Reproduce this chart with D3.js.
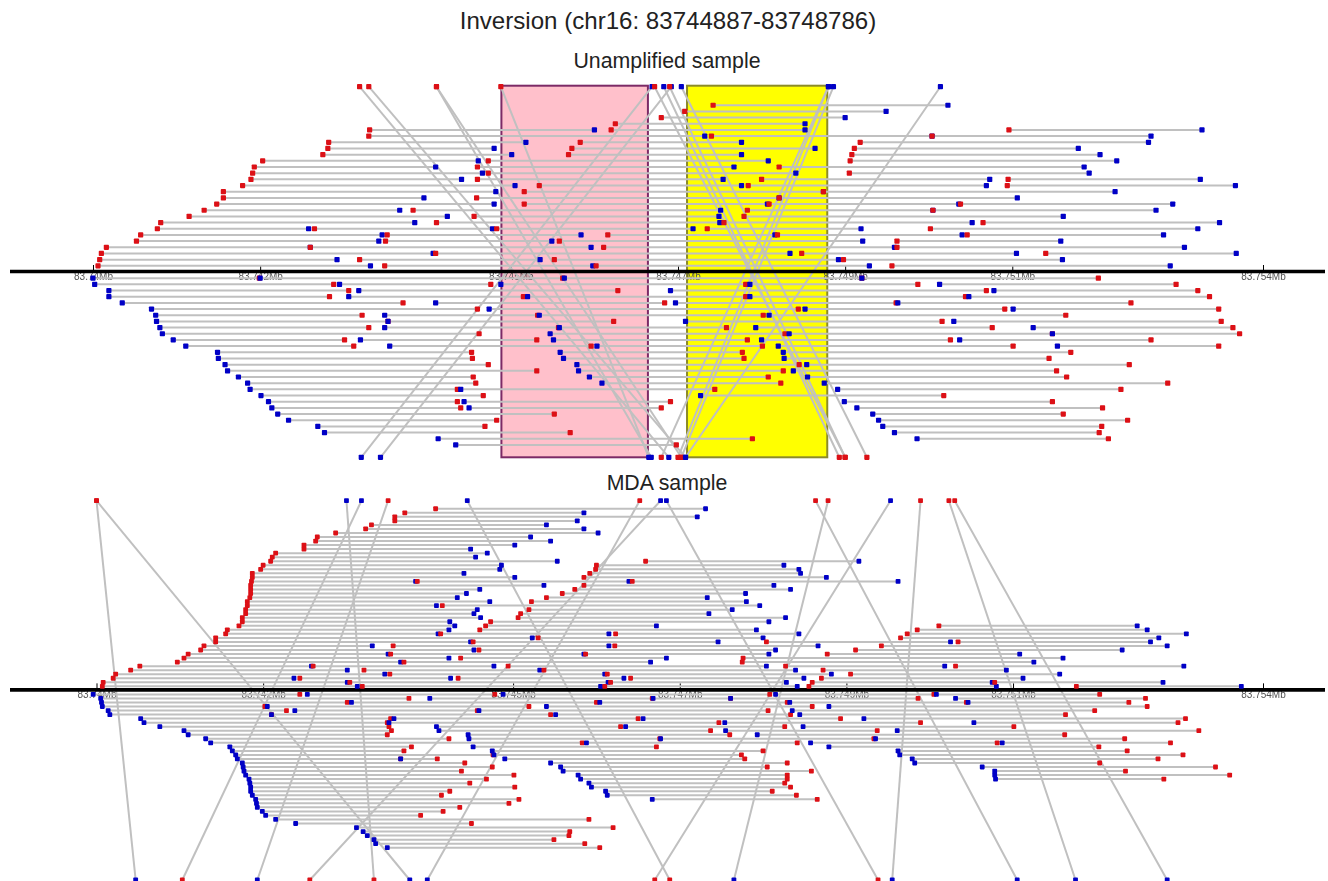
<!DOCTYPE html>
<html lang="en">
<head>
    <meta charset="UTF-8">
    <title>Inversion (chr16: 83744887-83748786)</title>
    <style>
        html, body { margin: 0; padding: 0; background: #fff; }
        svg { display: block; font-family: "Liberation Sans", Arial, sans-serif; }
        .soft { filter: blur(0.45px); }
    </style>
</head>

<body>
    <svg id="container" width="1328" height="881"></svg>
</body>

<script src="https://cdn.jsdelivr.net/npm/d3@7/dist/d3.min.js"></script>

<script>
    // all positions are kb past 83.74Mb, each row is start,end,start,end...
    const tickKb = [0, 2, 5, 7, 9, 11, 14]
    const tickLabels = ["83.74Mb", "83.742Mb", "83.745Mb", "83.747Mb", "83.749Mb", "83.751Mb", "83.754Mb"]
    const pinkRegion = [4.887, 6.64]
    const yellowRegion = [7.108, 8.786]

    const unampAbove = [
        [7.42, 10.23], [7.08, 9.49], [6.80, 9.00], [6.25, 8.52],
        [3.31, 6.00, 6.20, 8.52, 10.96, 13.27],
        [3.30, 7.32, 7.40, 10.04, 10.04, 12.66],
        [2.82, 5.18, 5.83, 7.76, 9.18, 12.63],
        [2.81, 4.80, 5.73, 8.64, 9.11, 11.79],
        [2.75, 5.01, 5.69, 7.76, 9.08, 12.05],
        [2.03, 4.61, 4.73, 8.08, 9.06, 12.25],
        [1.93, 4.10, 4.60, 7.67, 8.21, 11.86],
        [1.91, 4.66, 4.73, 8.41, 9.05, 11.92],
        [1.89, 4.41, 4.60, 7.54, 8.00, 10.73, 10.95, 13.25],
        [1.79, 5.05, 5.34, 7.76, 7.84, 10.69, 10.94, 13.67],
        [1.56, 4.82, 5.16, 8.74, 8.74, 12.23],
        [1.56, 3.96, 4.59, 8.21, 8.21, 11.06],
        [1.48, 4.80, 5.16, 8.07, 8.09, 10.36, 10.38, 12.92],
        [1.33, 3.67, 3.83, 7.51, 7.83, 10.05, 10.05, 12.72],
        [1.15, 4.24, 4.56, 7.49, 7.79, 11.61],
        [0.81, 3.85, 4.11, 7.50, 7.55, 10.52, 10.65, 13.48],
        [0.77, 2.58, 2.65, 4.78, 4.83, 7.18, 7.35, 9.19, 10.02, 13.22],
        [0.57, 3.46, 3.52, 5.84, 6.16, 8.16, 8.19, 10.40, 10.46, 12.81],
        [0.52, 3.42, 3.50, 5.49, 5.58, 9.21, 9.62, 11.58],
        [0.16, 2.60, 2.60, 5.96, 6.11, 9.59, 9.62, 13.06],
        [0.10, 4.07, 4.10, 8.34, 8.48, 11.05, 11.40, 13.68],
        [0.08, 2.92, 3.19, 5.35, 5.52, 8.92, 8.98, 11.60],
        [0.06, 3.32, 3.49, 5.98, 6.02, 9.29, 9.56, 12.89]
    ]

    const unampBelow = [
        [0.00, 1.99, 2.00, 5.62, 5.64, 9.20, 9.20, 12.03],
        [0.02, 2.88, 2.95, 4.76, 4.88, 7.81, 7.86, 9.87, 10.13, 12.96],
        [0.19, 3.06, 3.18, 6.28, 6.91, 10.69, 10.78, 13.22],
        [0.19, 2.83, 3.06, 5.15, 5.20, 7.81, 7.86, 10.44, 10.48, 13.36],
        [0.35, 3.71, 4.10, 6.84, 6.97, 9.61, 9.63, 12.42],
        [0.70, 4.60, 4.74, 8.44, 8.52, 10.91, 11.01, 13.47],
        [0.75, 3.22, 3.49, 5.32, 5.34, 8.02, 8.09, 11.64],
        [0.76, 3.53, 3.53, 6.23, 7.09, 10.16, 10.30, 13.50],
        [0.80, 3.30, 3.49, 5.57, 5.58, 7.58, 7.93, 10.76, 11.25, 13.64],
        [0.83, 4.62, 5.47, 8.28, 8.33, 11.48, 11.48, 13.72],
        [0.96, 3.01, 3.20, 5.31, 5.51, 7.83, 8.00, 10.26, 10.37, 12.66],
        [1.11, 3.12, 3.55, 5.96, 6.03, 8.01, 8.20, 11.01, 11.54, 13.47],
        [1.49, 4.53, 5.59, 7.77, 8.26, 11.70],
        [1.50, 4.54, 5.63, 7.79, 8.27, 11.44],
        [1.58, 4.73, 5.79, 8.45, 8.54, 12.40],
        [1.61, 5.31, 5.81, 8.26, 8.38, 11.53],
        [1.74, 4.55, 5.94, 8.08, 8.55, 11.65],
        [1.85, 4.58, 6.09, 8.23, 8.75, 12.86],
        [1.88, 4.36, 4.40, 7.44, 8.91, 12.30],
        [2.01, 4.67, 7.27, 10.18],
        [2.10, 4.36, 4.44, 6.91, 8.99, 11.48],
        [2.14, 4.40, 4.50, 6.80, 9.14, 12.08],
        [2.21, 5.52, 9.33, 11.61],
        [2.34, 4.83, 9.40, 12.38],
        [2.69, 4.69, 9.45, 12.07],
        [2.77, 5.71, 9.59, 12.04],
        [4.13, 7.89, 9.86, 12.15],
        [4.34, 6.98]
    ]

    // top position, bottom position, top strand, bottom strand (1 red, 0 blue)
    const unampCrossing = [
        [3.19, 6.89, 1, 0], [3.30, 7.09, 1, 0], [4.11, 6.68, 1, 0], [4.11, 7.04, 1, 1],
        [4.88, 6.65, 1, 0], [6.69, 3.21, 0, 0], [6.92, 3.44, 0, 0], [6.72, 9.00, 1, 1],
        [6.83, 8.93, 0, 1], [6.90, 9.00, 1, 1], [7.04, 9.26, 0, 1], [8.80, 6.80, 0, 1],
        [8.80, 7.00, 0, 1], [8.86, 7.04, 0, 1], [10.14, 7.09, 0, 0]
    ]

    const mdaAbove = [
        [4.07, 7.31], [3.70, 5.85], [3.58, 7.21], [3.58, 5.77], [3.30, 5.40], [3.23, 5.85],
        [2.87, 6.02], [2.65, 5.21], [2.63, 5.45], [2.49, 5.02], [2.49, 4.49], [2.15, 4.69],
        [2.11, 4.55],
        [2.09, 5.53, 6.59, 9.15],
        [2.00, 4.86, 6.00, 8.25],
        [1.97, 4.84, 5.99, 8.43],
        [1.87, 4.41, 5.92, 8.45],
        [1.87, 5.02, 5.85, 8.76],
        [1.86, 3.83, 3.85, 6.39, 6.43, 9.62],
        [1.85, 5.37, 5.85, 8.13],
        [1.85, 4.60, 5.74, 8.33],
        [1.85, 4.44, 5.59, 7.79],
        [1.84, 4.33, 5.40, 7.33],
        [1.81, 4.72, 5.22, 7.80],
        [1.81, 4.08, 4.15, 7.96],
        [1.79, 4.57, 5.19, 7.63],
        [1.79, 4.53, 5.09, 7.35],
        [1.75, 4.61, 5.06, 8.27],
        [1.75, 4.24, 4.73, 8.07],
        [1.71, 4.30, 4.67, 6.72, 10.11, 12.49],
        [1.57, 4.23, 4.60, 7.92, 9.85, 12.61],
        [1.55, 4.10, 4.13, 6.15, 6.23, 8.43, 9.73, 13.08],
        [1.43, 5.23, 5.30, 8.00, 9.65, 12.75],
        [1.43, 4.49, 4.52, 7.46, 8.04, 10.25, 10.34, 12.65],
        [1.29, 3.31, 3.56, 6.15, 6.22, 8.66, 9.42, 12.85],
        [1.25, 4.53, 4.59, 8.15, 9.11, 12.31],
        [1.10, 3.50, 3.53, 5.85, 5.87, 8.07, 8.77, 11.08],
        [1.05, 4.23, 4.37, 6.84, 7.76, 11.60],
        [0.97, 3.65, 3.69, 6.65, 7.75, 11.25],
        [0.52, 2.58, 2.60, 4.77, 4.94, 8.04, 8.27, 10.18, 10.31, 13.05],
        [0.41, 3.01, 3.21, 5.32, 5.37, 8.39, 8.72, 10.92],
        [0.23, 3.46, 3.52, 6.10, 6.13, 8.82, 9.05, 11.56],
        [0.20, 2.37, 2.44, 4.25, 4.34, 6.33, 6.41, 8.49, 8.70, 11.12],
        [0.08, 3.01, 3.04, 6.14, 6.17, 8.28, 8.59, 10.75, 10.78, 12.80],
        [0.07, 3.13, 3.19, 6.05, 6.10, 8.41, 8.55, 10.80, 11.76, 13.74]
    ]

    const mdaBelow = [
        [-0.04, 2.44, 2.53, 4.78, 4.88, 8.08, 8.15, 10.05, 10.08, 12.04],
        [0.05, 3.75, 4.00, 6.67, 6.68, 7.61, 7.61, 9.86, 10.31, 12.59],
        [0.06, 3.01, 3.06, 6.00, 6.04, 8.29, 8.32, 10.44, 10.46, 12.39],
        [0.07, 2.02, 2.05, 5.19, 5.40, 8.59, 8.79, 12.61],
        [0.14, 2.28, 2.38, 4.57, 4.59, 8.06, 8.35, 11.98],
        [0.16, 2.10, 2.10, 5.45, 5.51, 8.33, 8.44, 11.63],
        [0.53, 3.53, 3.57, 6.50, 6.56, 8.93, 9.21, 13.07],
        [0.57, 3.49, 3.51, 7.47, 7.54, 9.89, 10.53, 12.98],
        [0.76, 3.51, 4.08, 6.29, 6.35, 8.26, 8.48, 11.01],
        [1.05, 3.54, 4.11, 7.37, 7.55, 9.37, 9.61, 13.23],
        [1.10, 3.49, 4.46, 7.60, 7.93, 11.62],
        [1.31, 4.23, 4.47, 6.76, 6.77, 9.33, 9.35, 12.34],
        [1.37, 5.83, 5.88, 8.41, 8.57, 10.81, 10.87, 12.89],
        [1.60, 3.78, 4.52, 6.72, 8.79, 12.03],
        [1.63, 3.69, 4.75, 8.00, 9.62, 12.37],
        [1.67, 4.76, 4.77, 7.74, 9.64, 13.04],
        [1.69, 3.65, 3.65, 4.09, 4.90, 7.78, 9.79, 12.74],
        [1.75, 4.42, 5.45, 8.29, 9.82, 12.04],
        [1.76, 4.75, 5.57, 8.05, 10.63, 13.43],
        [1.77, 4.38, 5.60, 8.58, 10.78, 12.35],
        [1.79, 5.01, 5.78, 8.29, 10.78, 13.60],
        [1.83, 4.68, 5.81, 8.29, 10.79, 12.81],
        [1.84, 4.48, 5.91, 8.26],
        [1.85, 5.02, 5.94, 8.33],
        [1.85, 4.24, 6.11, 8.11],
        [1.87, 4.14, 6.13, 8.40],
        [1.91, 5.07, 6.67, 8.65],
        [1.92, 4.95], [1.93, 4.36], [1.99, 4.16], [2.03, 3.89], [2.15, 5.91], [2.39, 4.50],
        [3.12, 6.20], [3.20, 5.68], [3.25, 5.67], [3.33, 5.49], [3.35, 5.86], [3.49, 6.04]
    ]

    const mdaCrossing = [
        [0.00, 0.47, 1, 0], [0.00, 3.76, 1, 0], [3.00, 3.33, 0, 1], [3.18, 1.03, 0, 1],
        [3.50, 1.93, 1, 0], [4.45, 6.88, 0, 1], [6.52, 3.97, 1, 0], [6.77, 2.56, 0, 1],
        [6.84, 9.38, 0, 1], [8.63, 11.05, 1, 0], [8.78, 7.65, 1, 0], [9.53, 6.70, 0, 1],
        [9.89, 9.55, 1, 0], [10.23, 11.75, 1, 0], [10.30, 12.85, 1, 0]
    ]

    const RED = "#dc1016"
    const BLUE = "#0000c6"
    const GREY = "#c0c0c0"

    let svg = d3.select("#container")

    svg.append("text").attr("x", 668).attr("y", 29).attr("text-anchor", "middle")
        .style("font-size", "24.1px").style("fill", "#222")
        .text("Inversion (chr16: 83744887-83748786)")

    drawPanel({
        title: "Unamplified sample", titleY: 68,
        xRange: [93, 1263], yDomain: [-3, 57], yRange: [86.7, 457.3],
        axisRow: 27, belowStart: 28, above: unampAbove, below: unampBelow,
        crossing: unampCrossing, markSize: 5.2, regions: true
    })

    drawPanel({
        title: "MDA sample", titleY: 490,
        xRange: [96.5, 1263], yDomain: [-2, 92], yRange: [500.7, 880],
        axisRow: 45, belowStart: 46, above: mdaAbove, below: mdaBelow,
        crossing: mdaCrossing, markSize: 4.8, regions: false
    })

    function readsFrom(rows, firstRow, startColor, endColor) {
        let reads = []
        rows.forEach((row, i) => {
            for (let k = 0; k < row.length; k += 2) {
                reads.push({ row: firstRow + i, start: row[k], end: row[k + 1], startColor, endColor })
            }
        })
        return reads
    }

    function drawPanel(p) {
        let x = d3.scaleLinear().domain([0, 14]).range(p.xRange)
        let y = d3.scaleLinear().domain(p.yDomain).range(p.yRange)
        let topRow = p.yDomain[0]
        let bottomRow = p.yDomain[1]

        svg.append("text").attr("x", 667).attr("y", p.titleY).attr("text-anchor", "middle")
            .style("font-size", "21.3px").style("fill", "#222")
            .text(p.title)

        let g = svg.append("g").attr("class", "soft")

        if (p.regions) {
            let boxes = [
                { span: pinkRegion, fill: "#ffc0cb", line: "#7c2a66" },
                { span: yellowRegion, fill: "#ffff00", line: "#8c8a28" }
            ]
            g.selectAll("rect.region").data(boxes).join("rect")
                .attr("class", "region")
                .attr("x", d => x(d.span[0]))
                .attr("width", d => x(d.span[1]) - x(d.span[0]))
                .attr("y", y(topRow) - 1)
                .attr("height", y(bottomRow) - y(topRow) + 1)
                .style("fill", d => d.fill)
                .style("stroke", d => d.line)
                .style("stroke-width", 2)
        }

        let axis = d3.axisBottom(x)
            .tickValues(tickKb)
            .tickSize(-6)
            .tickPadding(2)
            .tickFormat((d, i) => tickLabels[i])
        let axisGroup = g.append("g")
            .attr("transform", `translate(0, ${y(p.axisRow) - 1})`)
            .call(axis)
        axisGroup.select(".domain").remove()
        axisGroup.selectAll("text")
            .style("font-size", "10px")
            .style("font-family", '"Liberation Sans", Arial, sans-serif')
            .style("fill", "#555")

        let reads = readsFrom(p.above, 0, RED, BLUE)
            .concat(readsFrom(p.below, p.belowStart, BLUE, RED))

        g.selectAll("line.read").data(reads).join("line")
            .attr("class", "read")
            .attr("x1", d => x(d.start)).attr("x2", d => x(d.end))
            .attr("y1", d => y(d.row)).attr("y2", d => y(d.row))
            .style("stroke", GREY).style("stroke-width", 2)

        g.selectAll("line.cross").data(p.crossing).join("line")
            .attr("class", "cross")
            .attr("x1", d => x(d[0])).attr("x2", d => x(d[1]))
            .attr("y1", y(topRow)).attr("y2", y(bottomRow))
            .style("stroke", GREY).style("stroke-width", 2)

        // heavy baseline runs past the scale on both sides
        g.append("line")
            .attr("x1", 10).attr("x2", 1325)
            .attr("y1", y(p.axisRow) - 0.5).attr("y2", y(p.axisRow) - 0.5)
            .style("stroke", "#000").style("stroke-width", 3.6)

        let s = p.markSize
        let marks = []
        reads.forEach(d => marks.push({ pos: d.end, row: d.row, color: d.endColor }))
        reads.forEach(d => marks.push({ pos: d.start, row: d.row, color: d.startColor }))
        p.crossing.forEach(d => {
            marks.push({ pos: d[0], row: topRow, color: d[2] ? RED : BLUE })
            marks.push({ pos: d[1], row: bottomRow, color: d[3] ? RED : BLUE })
        })

        g.selectAll("rect.mark").data(marks).join("rect")
            .attr("class", "mark")
            .attr("x", d => x(d.pos) - s / 2)
            .attr("y", d => y(d.row) - s / 2)
            .attr("width", s).attr("height", s)
            .attr("rx", 0.8)
            .style("fill", d => d.color)
    }
</script>

</html>
